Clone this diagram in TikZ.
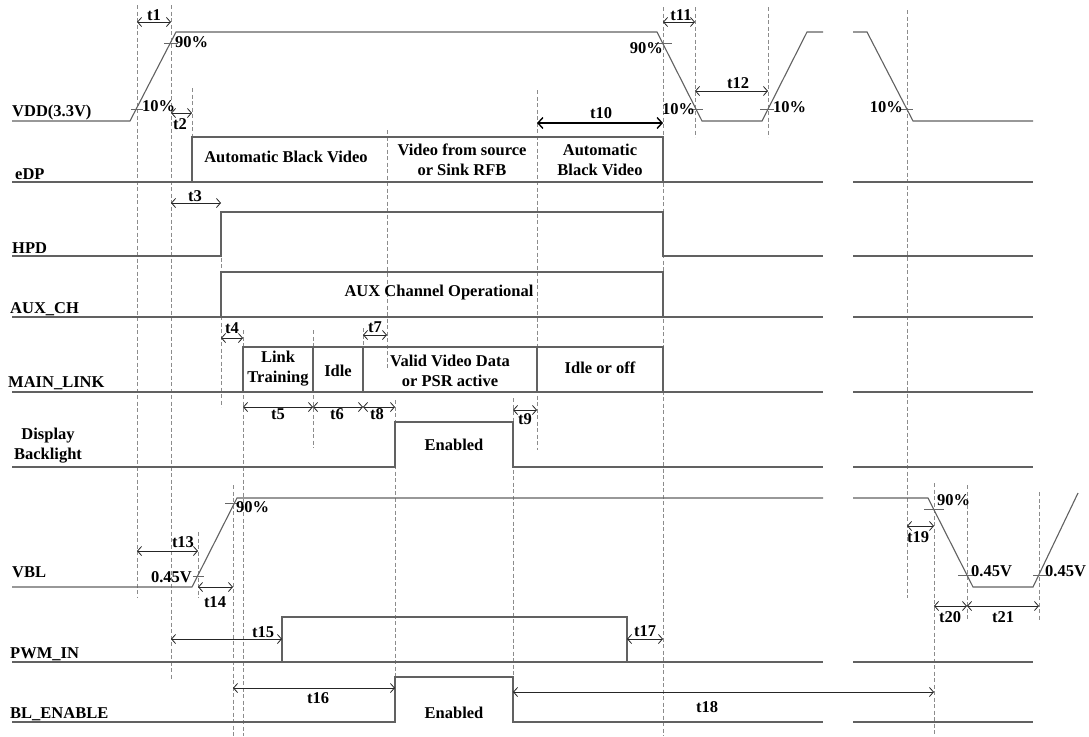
\documentclass[tikz,border=0pt]{standalone}
\usepackage{fontspec}
\setmainfont{Liberation Serif}
\usetikzlibrary{arrows.meta}
\begin{document}
\begin{tikzpicture}[x=1pt,y=-1pt,
 sig/.style={draw=black!62, line width=1.1pt, line join=miter},
 guide/.style={draw=black!45, line width=0.6pt, dash pattern=on 4pt off 2.5pt},
 dim/.style={draw=black!85, line width=0.8pt, {Straight Barb[length=4pt,width=9pt]}-{Straight Barb[length=4pt,width=9pt]}},
 thickdim/.style={draw=black, line width=1.4pt, {Straight Barb[length=5pt,width=11pt]}-{Straight Barb[length=5pt,width=11pt]}},
 txt/.style={font=\bfseries\fontsize{16.5}{20}\selectfont, inner sep=0pt, align=center},
 tk/.style={draw=black!60, line width=0.8pt}]
\useasboundingbox (0,0) rectangle (1089,736);

% ---------- guide lines ----------
\draw[guide] (137,5) -- (137,598);
\draw[guide] (171,5) -- (171,680);
\draw[guide] (192,88) -- (192,137);
\draw[guide] (221,212) -- (221,407);
\draw[guide] (233,485) -- (233,736);
\draw[guide] (243,330) -- (243,736);
\draw[guide] (198,532) -- (198,598);
\draw[guide] (313,330) -- (313,448);
\draw[guide] (363,328) -- (363,392);
\draw[guide] (387,130) -- (387,370);
\draw[guide] (395,400) -- (395,722);
\draw[guide] (513,398) -- (513,722);
\draw[guide] (537,90) -- (537,450);
\draw[guide] (663,7) -- (663,736);
\draw[guide] (695,7) -- (695,137);
\draw[guide] (768,7) -- (768,137);
\draw[guide] (907,10) -- (907,598);
\draw[guide] (934,483) -- (934,736);
\draw[guide] (967,485) -- (967,620);
\draw[guide] (1039,492) -- (1039,620);

% ---------- VDD ----------
\draw[sig] (12,121) -- (130,121) -- (176,32) -- (657,32) -- (702,121) -- (762,121) -- (807,32) -- (823,32);
\draw[sig] (853,32) -- (867,32) -- (913,121) -- (1033,121);
\draw[tk] (164,43) -- (178,43);
\draw[tk] (131,109) -- (143,109);
\draw[tk] (655,43) -- (672,43);
\draw[tk] (690,109) -- (703,109);
\draw[tk] (760,109) -- (774,109);
\draw[tk] (900,109) -- (913,109);
\node[txt, anchor=west] (p1) at (175,42) {90\%};
\node[txt, anchor=west] (p2) at (142,106) {10\%};
\node[txt, anchor=east] (p3) at (663,48) {90\%};
\node[txt, anchor=west] (p4) at (662,109) {10\%};
\node[txt, anchor=west] (p5) at (773,107) {10\%};
\node[txt, anchor=east] (p6) at (903,107) {10\%};

% ---------- eDP ----------
\draw[sig] (12,182) -- (823,182);
\draw[sig] (853,182) -- (1033,182);
\draw[sig] (192,182) -- (192,137) -- (663,137) -- (663,182);
\node[txt] (e1) at (286,157) {Automatic Black Video};
\node[txt] (e2) at (462,160) {Video from source\\or Sink RFB};
\node[txt] (e3) at (600,160) {Automatic\\Black Video};

% ---------- HPD ----------
\draw[sig] (12,256) -- (221,256) -- (221,212) -- (663,212) -- (663,256) -- (823,256);
\draw[sig] (853,256) -- (1033,256);

% ---------- AUX_CH ----------
\draw[sig] (12,317) -- (823,317);
\draw[sig] (853,317) -- (1033,317);
\draw[sig] (221,317) -- (221,272) -- (663,272) -- (663,317);
\node[txt] (a1) at (439,293) {AUX Channel Operational};

% ---------- MAIN_LINK ----------
\draw[sig] (12,392) -- (823,392);
\draw[sig] (853,392) -- (1033,392);
\draw[sig] (243,392) -- (243,347) -- (663,347) -- (663,392);
\draw[sig] (313,347) -- (313,392);
\draw[sig] (363,347) -- (363,392);
\draw[sig] (537,347) -- (537,392);
\node[txt] (m1) at (278,369) {Link\\Training};
\node[txt] (m2) at (338,371) {Idle};
\node[txt] (m3) at (450,371) {Valid Video Data\\or PSR active};
\node[txt] (m4) at (600,368) {Idle or off};

% ---------- Display Backlight ----------
\draw[sig] (12,467) -- (395,467) -- (395,422) -- (513,422) -- (513,467) -- (823,467);
\draw[sig] (853,467) -- (1033,467);
\node[txt] (d1) at (454,445) {Enabled};

% ---------- VBL ----------
\draw[sig] (12,587) -- (192,587) -- (237,498) -- (823,498);
\draw[sig] (853,498) -- (928,498) -- (973,587) -- (1033,587) -- (1078,493);
\draw[tk] (225,503) -- (237,503);
\draw[tk] (193,576) -- (204,576);
\draw[tk] (924,509) -- (944,509);
\draw[tk] (958,575) -- (977,575);
\draw[tk] (1033,575) -- (1047,575);
\node[txt, anchor=west] (v1) at (236,507) {90\%};
\node[txt, anchor=east] (v2) at (192,577) {0.45V};
\node[txt, anchor=west] (v3) at (937,500) {90\%};
\node[txt, anchor=west] (v4) at (971,571) {0.45V};
\node[txt, anchor=west] (v5) at (1045,571) {0.45V};

% ---------- PWM_IN ----------
\draw[sig] (12,662) -- (823,662);
\draw[sig] (853,662) -- (1033,662);
\draw[sig] (282,662) -- (282,617) -- (627,617) -- (627,662);

% ---------- BL_ENABLE ----------
\draw[sig] (12,722) -- (395,722) -- (395,677) -- (513,677) -- (513,722) -- (823,722);
\draw[sig] (853,722) -- (1033,722);
\node[txt] (b1) at (454,713) {Enabled};

% ---------- signal names ----------
\node[txt, anchor=west] (nVDD) at (12,113) {VDD(3.3V)};
\node[txt, anchor=west] (nEDP) at (15,174) {eDP};
\node[txt, anchor=west] (nHPD) at (12,248) {HPD};
\node[txt, anchor=west] (nAUX) at (10,309) {AUX\_CH};
\node[txt, anchor=west] (nML) at (8,383) {MAIN\_LINK};
\node[txt] (nDB) at (48,446) {Display\\Backlight};
\node[txt, anchor=west] (nVBL) at (12,572) {VBL};
\node[txt, anchor=west] (nPWM) at (10,654) {PWM\_IN};
\node[txt, anchor=west] (nBL) at (10,714) {BL\_ENABLE};

% ---------- dimensions ----------
\draw[dim] (137,22) -- (171,22);   \node[txt] (t1) at (154,15) {t1};
\draw[dim] (171,113) -- (192,113); \node[txt] (t2) at (180,124) {t2};
\draw[dim] (171,203) -- (221,203); \node[txt] (t3) at (195,196) {t3};
\draw[dim] (221,338) -- (243,338); \node[txt] (t4) at (232,328) {t4};
\draw[dim] (243,407) -- (313,407); \node[txt] (t5) at (278,414) {t5};
\draw[dim] (313,407) -- (363,407); \node[txt] (t6) at (337,414) {t6};
\draw[dim] (363,407) -- (395,407); \node[txt] (t8) at (377,414) {t8};
\draw[dim] (363,335) -- (387,335); \node[txt] (t7) at (375,327) {t7};
\draw[dim] (513,410) -- (537,410); \node[txt] (t9) at (525,419) {t9};
\draw[thickdim] (537,123) -- (663,123); \node[txt] (t10) at (601,113) {t10};
\draw[dim] (663,22) -- (695,22);   \node[txt] (t11) at (681,15) {t11};
\draw[dim] (695,91) -- (768,91);   \node[txt] (t12) at (738,83) {t12};
\draw[dim] (137,551) -- (198,551); \node[txt] (t13) at (183,542) {t13};
\draw[dim] (198,587) -- (233,587); \node[txt] (t14) at (215,602) {t14};
\draw[dim] (171,639) -- (282,639); \node[txt] (t15) at (263,632) {t15};
\draw[dim] (233,688) -- (395,688); \node[txt] (t16) at (318,698) {t16};
\draw[dim] (627,639) -- (663,639); \node[txt] (t17) at (645,631) {t17};
\draw[dim] (513,692) -- (934,692); \node[txt] (t18) at (707,707) {t18};
\draw[dim] (907,526) -- (934,526); \node[txt] (t19) at (918,537) {t19};
\draw[dim] (934,606) -- (967,606); \node[txt] (t20) at (950,617) {t20};
\draw[dim] (967,606) -- (1039,606); \node[txt] (t21) at (1003,617) {t21};
\end{tikzpicture}
\end{document}
